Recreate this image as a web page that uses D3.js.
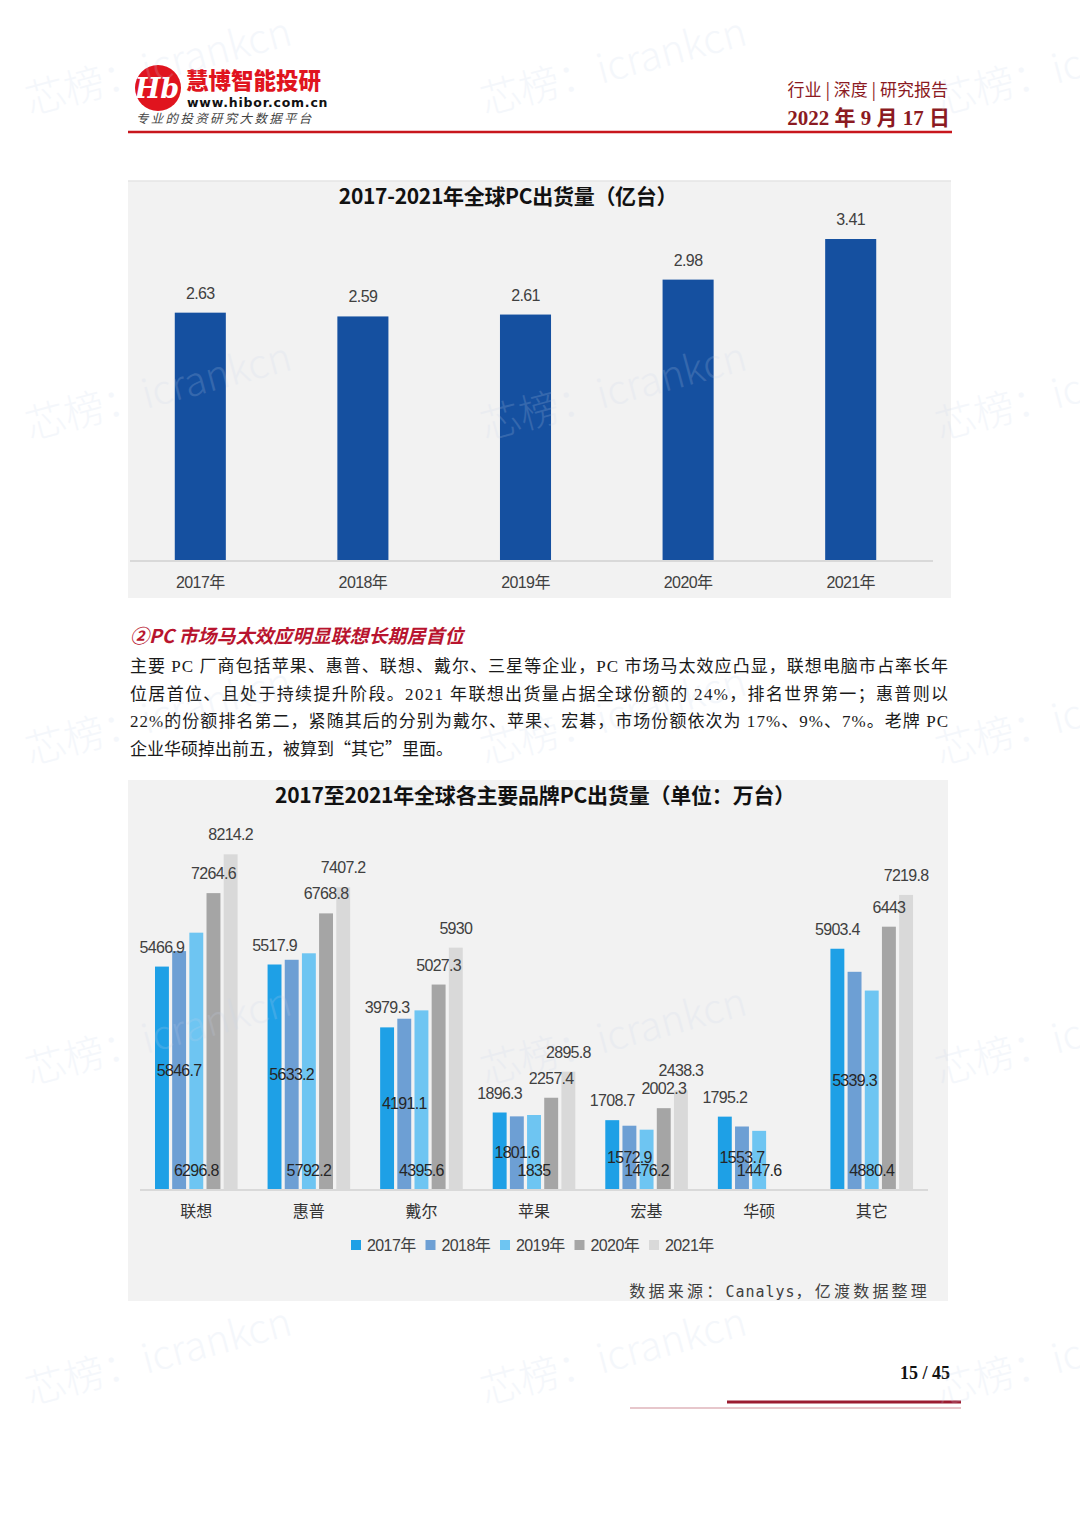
<!DOCTYPE html>
<html>
<head>
<meta charset="utf-8">
<script src="https://cdn.jsdelivr.net/npm/d3@7"></script>
<style>
  body { margin: 0; background: #fff; }
  svg { display: block; }
</style>
</head>
<body>
<div id="page"></div>
<script>
// ---- data ----
var years = ['2017年', '2018年', '2019年', '2020年', '2021年'];
var totalShip = [2.63, 2.59, 2.61, 2.98, 3.41];

var brands = ['联想', '惠普', '戴尔', '苹果', '宏基', '华硕', '其它'];
var ship2017 = [5466.9, 5517.9, 3979.3, 1896.3, 1708.7, 1795.2, 5903.4];
var ship2018 = [5846.7, 5633.2, 4191.1, 1801.6, 1572.9, 1553.7, 5339.3];
var ship2019 = [6296.8, 5792.2, 4395.6, 1835, 1476.2, 1447.6, 4880.4];
var ship2020 = [7264.6, 6768.8, 5027.3, 2257.4, 2002.3, null, 6443];
var ship2021 = [8214.2, 7407.2, 5930, 2895.8, 2438.3, null, 7219.8];
var seriesColors = ['#1ea0e6', '#6d9fd4', '#6ec5f2', '#a5a5a5', '#d9d9d9'];

var bodyLines = [
    '主要 PC 厂商包括苹果、惠普、联想、戴尔、三星等企业，PC 市场马太效应凸显，联想电脑市占率长年',
    '位居首位、且处于持续提升阶段。2021 年联想出货量占据全球份额的 24%，排名世界第一；惠普则以',
    '22%的份额排名第二，紧随其后的分别为戴尔、苹果、宏碁，市场份额依次为 17%、9%、7%。老牌 PC',
    '企业华硕掉出前五，被算到“其它”里面。'
];

var W = 1080, H = 1527;
var svg = d3.select('#page').append('svg')
    .attr('width', W).attr('height', H)
    .attr('font-family', 'Liberation Sans, Noto Sans CJK SC, sans-serif');

svg.append('rect').attr('width', W).attr('height', H).attr('fill', '#fff');

// ---- header ----
var head = svg.append('g');
head.append('circle').attr('cx', 158).attr('cy', 88).attr('r', 23).attr('fill', '#e0141e');
head.append('text').attr('x', 157).attr('y', 98).attr('text-anchor', 'middle')
    .attr('fill', '#fff').attr('font-size', 27).attr('font-weight', 'bold')
    .attr('font-style', 'italic').attr('font-family', 'DejaVu Serif').text('Hb');
head.append('text').attr('x', 186).attr('y', 89)
    .attr('fill', '#e0141e').attr('font-size', 22.5).attr('font-weight', 900)
    .attr('font-family', 'Noto Sans CJK SC').text('慧博智能投研');
head.append('text').attr('x', 187).attr('y', 107)
    .attr('fill', '#111').attr('font-size', 12.5).attr('font-weight', 'bold')
    .attr('letter-spacing', 0.8).attr('font-family', 'DejaVu Sans').text('www.hibor.com.cn');
head.append('text').attr('x', 136).attr('y', 123)
    .attr('fill', '#444').attr('font-size', 12.5).attr('font-style', 'italic')
    .attr('letter-spacing', 2.3).attr('font-family', 'Noto Sans CJK SC').text('专业的投资研究大数据平台');
head.append('text').attr('x', 948).attr('y', 96).attr('text-anchor', 'end')
    .attr('fill', '#8b1a22').attr('font-size', 17).attr('font-family', 'Noto Sans CJK SC')
    .text('行业 | 深度 | 研究报告');
head.append('text').attr('x', 950).attr('y', 125).attr('text-anchor', 'end')
    .attr('fill', '#8b1a22').attr('font-size', 21).attr('font-weight', 'bold')
    .attr('font-family', 'Liberation Serif, Noto Sans CJK SC').text('2022 年 9 月 17 日');
head.append('line').attr('x1', 128).attr('x2', 952).attr('y1', 132).attr('y2', 132)
    .attr('stroke', '#c8161d').attr('stroke-width', 2.5);

// ---- chart 1 ----
var c1 = svg.append('g');
c1.append('rect').attr('x', 128).attr('y', 181).attr('width', 823).attr('height', 417).attr('fill', '#f2f2f2');
c1.append('line').attr('x1', 128).attr('x2', 951).attr('y1', 181).attr('y2', 181)
    .attr('stroke', '#e4e4e4').attr('stroke-width', 1.5);
c1.append('text').attr('x', 508).attr('y', 204).attr('text-anchor', 'middle')
    .attr('font-size', 21).attr('font-weight', 'bold').attr('fill', '#111')
    .attr('font-family', 'Noto Sans CJK SC').attr('letter-spacing', -0.3)
    .text('2017-2021年全球PC出货量（亿台）');

var x1s = d3.scaleBand().domain(years).range([119, 932]).paddingInner(0.686).paddingOuter(0.343);
var y1s = d3.scaleLinear().domain([0, 4]).range([561, 183.3]);

c1.selectAll('rect.bar').data(totalShip).enter().append('rect')
    .attr('class', 'bar')
    .attr('x', function(d, i) { return x1s(years[i]); })
    .attr('width', x1s.bandwidth())
    .attr('y', function(d) { return y1s(d); })
    .attr('height', function(d) { return y1s(0) - y1s(d); })
    .attr('fill', '#1550a0');

c1.selectAll('text.val').data(totalShip).enter().append('text')
    .attr('class', 'val').attr('text-anchor', 'middle')
    .attr('x', function(d, i) { return x1s(years[i]) + x1s.bandwidth() / 2; })
    .attr('y', function(d) { return y1s(d) - 14; })
    .attr('font-size', 16).attr('fill', '#404040').attr('letter-spacing', -0.6)
    .text(function(d) { return d.toFixed(2); });

c1.append('line').attr('x1', 130).attr('x2', 933).attr('y1', 561).attr('y2', 561)
    .attr('stroke', '#d9d9d9').attr('stroke-width', 2);

var ax1 = c1.append('g').attr('transform', 'translate(0,561)')
    .call(d3.axisBottom(x1s).tickSize(0).tickPadding(0));
ax1.attr('font-family', null).attr('font-size', null);
ax1.select('.domain').remove();
ax1.selectAll('text').attr('y', 27).attr('dy', 0).attr('font-size', 16)
    .attr('fill', '#404040').attr('letter-spacing', -0.6);

// ---- text ----
var txt = svg.append('g');
txt.append('text').attr('x', 130).attr('y', 643)
    .attr('fill', '#b8142e').attr('font-size', 19).attr('font-weight', 'bold')
    .attr('font-style', 'italic').attr('font-family', 'Noto Sans CJK SC')
    .text('②PC 市场马太效应明显联想长期居首位');
txt.selectAll('text.body').data(bodyLines).enter().append('text')
    .attr('class', 'body').attr('x', 130)
    .attr('y', function(d, i) { return 672 + i * 27.5; })
    .attr('font-size', 17).attr('fill', '#1a1a1a')
    .attr('font-family', function(d, i) {
        return i < bodyLines.length - 1 ? 'Liberation Serif, Noto Sans CJK SC' : 'Noto Sans CJK SC';
    })
    .each(function(d, i) {
        if (i < bodyLines.length - 1) {
            d3.select(this).attr('textLength', 818).attr('lengthAdjust', 'spacing');
        }
    })
    .text(function(d) { return d; });

// ---- chart 2 ----
var c2 = svg.append('g');
c2.append('rect').attr('x', 128).attr('y', 780).attr('width', 820).attr('height', 521).attr('fill', '#f2f2f2');
c2.append('text').attr('x', 535).attr('y', 803).attr('text-anchor', 'middle')
    .attr('font-size', 21).attr('font-weight', 'bold').attr('fill', '#111')
    .attr('font-family', 'Noto Sans CJK SC').attr('letter-spacing', -0.2)
    .text('2017至2021年全球各主要品牌PC出货量（单位：万台）');

var series = [ship2017, ship2018, ship2019, ship2020, ship2021];
var x0 = d3.scaleBand().domain(brands).range([140, 928]);
var xIn = d3.scaleBand().domain(years).range([15, 97.6]).paddingInner(0.19);
var y2s = d3.scaleLinear().domain([0, 9000]).range([1190, 822.2]);

var cells = [];
series.forEach(function(vals, s) {
    vals.forEach(function(v, b) {
        if (v !== null) cells.push({ s: s, b: b, v: v });
    });
});

c2.selectAll('rect.bar').data(cells).enter().append('rect')
    .attr('class', 'bar')
    .attr('x', function(d) { return x0(brands[d.b]) + xIn(years[d.s]); })
    .attr('width', xIn.bandwidth())
    .attr('y', function(d) { return y2s(d.v); })
    .attr('height', function(d) { return y2s(0) - y2s(d.v); })
    .attr('fill', function(d) { return seriesColors[d.s]; });

// labels: 2017/2020/2021 above bar, 2018 centred, 2019 at base
c2.selectAll('text.val').data(cells).enter().append('text')
    .attr('class', 'val').attr('text-anchor', 'middle')
    .attr('x', function(d) { return x0(brands[d.b]) + xIn(years[d.s]) + xIn.bandwidth() / 2; })
    .attr('y', function(d) {
        if (d.s === 1) return (y2s(d.v) + y2s(0)) / 2 + 5;
        if (d.s === 2) return y2s(0) - 14;
        return y2s(d.v) - 14;
    })
    .attr('font-size', 16).attr('letter-spacing', -0.7)
    .attr('fill', function(d) { return (d.s === 1 || d.s === 2) ? '#262626' : '#404040'; })
    .text(function(d) { return d.v; });

c2.append('line').attr('x1', 140).attr('x2', 928).attr('y1', 1190).attr('y2', 1190)
    .attr('stroke', '#d9d9d9').attr('stroke-width', 2);

var ax2 = c2.append('g').attr('transform', 'translate(0,1190)')
    .call(d3.axisBottom(x0).tickSize(0).tickPadding(0));
ax2.attr('font-family', null).attr('font-size', null);
ax2.select('.domain').remove();
ax2.selectAll('text').attr('y', 27).attr('dy', 0).attr('font-size', 16)
    .attr('fill', '#333').attr('font-family', 'Noto Sans CJK SC');

// legend
var leg = c2.selectAll('g.leg').data(years).enter().append('g')
    .attr('class', 'leg')
    .attr('transform', function(d, i) { return 'translate(' + (351 + i * 74.5) + ',1240)'; });
leg.append('rect').attr('width', 10).attr('height', 10)
    .attr('fill', function(d, i) { return seriesColors[i]; });
leg.append('text').attr('x', 16).attr('y', 10.5).attr('font-size', 16)
    .attr('fill', '#404040').attr('letter-spacing', -0.6).text(function(d) { return d; });

var src = c2.append('text').attr('x', 930).attr('y', 1297).attr('text-anchor', 'end')
    .attr('font-size', 16).attr('fill', '#404040').attr('letter-spacing', 3.2)
    .attr('font-family', 'Noto Sans CJK SC');
src.append('tspan').text('数据来源：');
src.append('tspan').attr('font-family', 'DejaVu Sans Mono').attr('font-size', 15)
    .attr('letter-spacing', 1).text('Canalys');
src.append('tspan').text('，亿渡数据整理');

// ---- footer ----
svg.append('text').attr('x', 950).attr('y', 1379).attr('text-anchor', 'end')
    .attr('font-size', 18).attr('font-weight', 'bold').attr('fill', '#111')
    .attr('font-family', 'Liberation Serif').text('15 / 45');
svg.append('line').attr('x1', 727).attr('x2', 961).attr('y1', 1402).attr('y2', 1402)
    .attr('stroke', '#9b1b30').attr('stroke-width', 3);
svg.append('line').attr('x1', 630).attr('x2', 961).attr('y1', 1408).attr('y2', 1408)
    .attr('stroke', '#cf8f98').attr('stroke-width', 1);

// ---- watermark, very faint, on top ----
var marks = [];
[95, 420, 745, 1065, 1385].forEach(function(yy) {
    [30, 485, 940].forEach(function(xx) { marks.push([xx, yy]); });
});
svg.append('g').selectAll('text').data(marks).enter().append('text')
    .attr('transform', function(d) { return 'translate(' + d[0] + ',' + (d[1] + 20) + ') rotate(-15)'; })
    .attr('font-size', 40).attr('fill', '#c8d4ec').attr('opacity', 0.18)
    .attr('font-family', 'Noto Sans CJK SC').attr('font-weight', 300)
    .text('芯榜：icrankcn');
</script>
</body>
</html>
